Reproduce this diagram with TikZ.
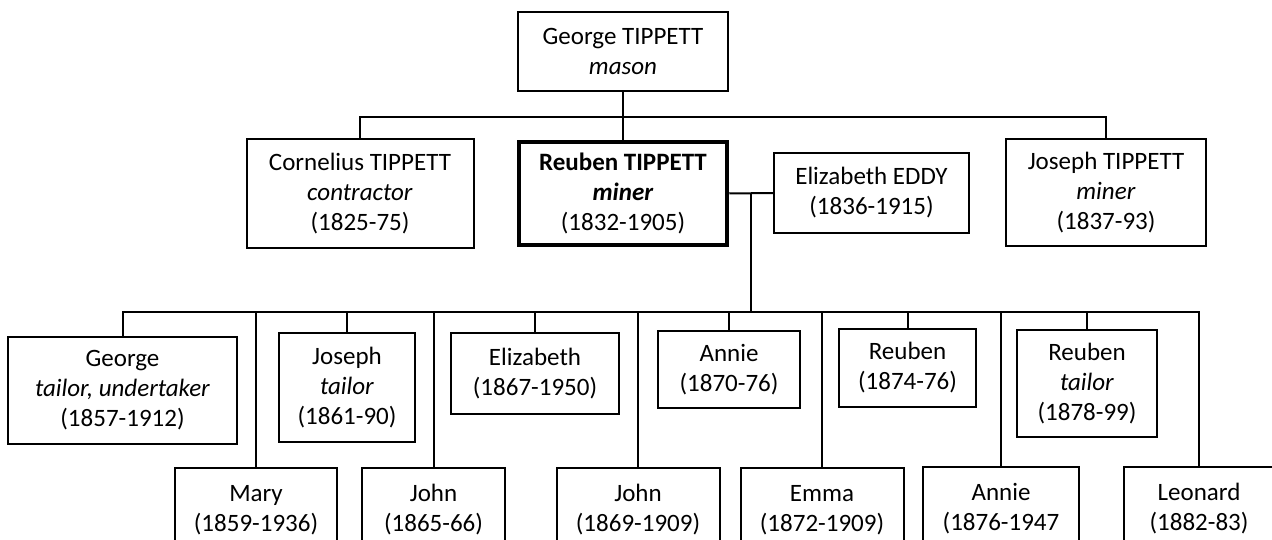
\documentclass[tikz,border=0pt]{standalone}
\usepackage{fontspec}
\setmainfont{Carlito}
\usetikzlibrary{positioning}
\tikzset{
  person/.style={draw=black, line width=2pt, fill=white, align=center, inner sep=0pt,
    font=\fontsize{25}{30}\selectfont},
  main person/.style={person, line width=4.5pt},
  family line/.style={black, line width=2pt},
}

\begin{document}
\begin{tikzpicture}[x=1pt,y=-1pt]
  \useasboundingbox (0,0) rectangle (1272,540);

  % grandparent
  \node[person,minimum width=210,minimum height=79] (george) at (623,51.5)
    {George TIPPETT\\\textit{mason}};

  % sons of George
  \node[person,minimum width=227,minimum height=109] (cornelius) at (360,193.5)
    {Cornelius TIPPETT\\\textit{contractor}\\(1825-75)};
  \node[main person,minimum width=208,minimum height=103] (reuben) at (623,193.5)
    {\textbf{Reuben TIPPETT}\\\textbf{\textit{miner}}\\(1832-1905)};
  \node[person,minimum width=195,minimum height=80] (eddy) at (871.5,193)
    {Elizabeth EDDY\\(1836-1915)};
  \node[person,minimum width=200,minimum height=107] (joseph) at (1106,192.5)
    {Joseph TIPPETT\\\textit{miner}\\(1837-93)};

  \coordinate (gbar) at (623,117);
  \draw[family line] (george) -- (reuben);
  \draw[family line] (cornelius.north) |- (gbar) -| (joseph.north);

  % marriage and descent
  \coordinate (wed) at (751,193);
  \coordinate (kbar) at (751,312);
  \draw[family line] (reuben.east) -- (eddy.west);
  \draw[family line] (wed) -- (kbar);

  % children, upper row
  \node[person,minimum width=229,minimum height=107] (georgejr) at (122.5,390.5)
    {George\\\textit{tailor, undertaker}\\(1857-1912)};
  \node[person,minimum width=136,minimum height=109] (josephjr) at (347,387.5)
    {Joseph\\\textit{tailor}\\(1861-90)};
  \node[person,minimum width=168,minimum height=81] (elizabeth) at (535,373.5)
    {Elizabeth\\(1867-1950)};
  \node[person,minimum width=142,minimum height=77] (annieA) at (729,369.5)
    {Annie\\(1870-76)};
  \node[person,minimum width=137,minimum height=78] (reubenA) at (907.5,368)
    {Reuben\\(1874-76)};
  \node[person,minimum width=140,minimum height=107] (reubenB) at (1087,383.5)
    {Reuben\\\textit{tailor}\\(1878-99)};

  % children, lower row
  \node[person,minimum width=162,minimum height=84] (mary) at (256,510)
    {Mary\\(1859-1936)};
  \node[person,minimum width=143,minimum height=84] (johnA) at (433.5,510)
    {John\\(1865-66)};
  \node[person,minimum width=163,minimum height=84] (johnB) at (638,510)
    {John\\(1869-1909)};
  \node[person,minimum width=163,minimum height=84] (emma) at (822,510)
    {Emma\\(1872-1909)};
  \node[person,minimum width=156,minimum height=84] (annieB) at (1001,509)
    {Annie\\(1876-1947};
  \node[person,minimum width=150,minimum height=84] (leonard) at (1199,509)
    {Leonard\\(1882-83)};

  \draw[family line] (georgejr.north) |- (kbar) -| (leonard.north);
  \foreach \kid in {mary,josephjr,johnA,elizabeth,johnB,annieA,emma,reubenA,annieB,reubenB}
    \draw[family line] (\kid.north) -- (\kid.north |- kbar);
\end{tikzpicture}
\end{document}
